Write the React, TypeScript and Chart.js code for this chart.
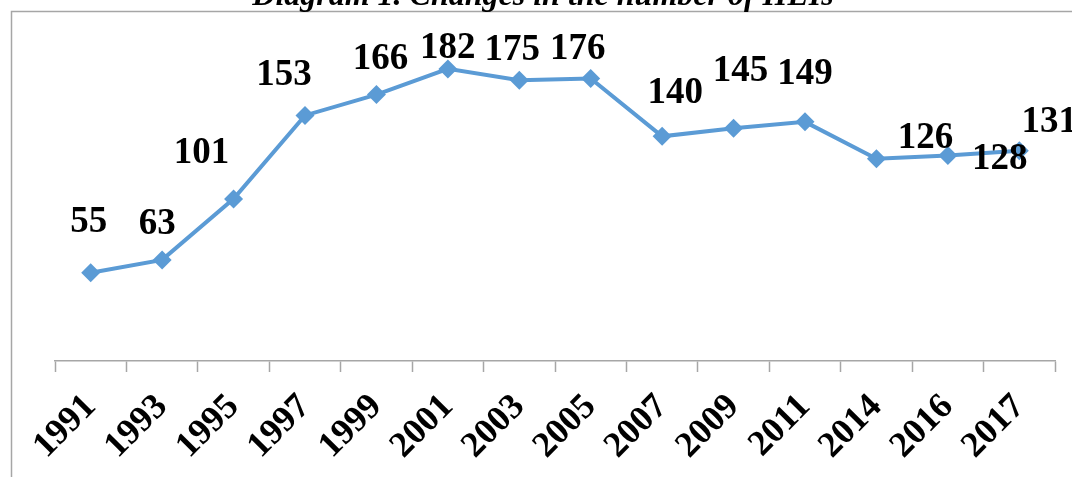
import React, { useEffect, useRef } from "react";
import { Chart, registerables } from "chart.js";

Chart.register(...registerables);

const years = ["1991", "1993", "1995", "1997", "1999", "2001", "2003", "2005", "2007", "2009", "2011", "2014", "2016", "2017"];
const heiCounts = [55, 63, 101, 153, 166, 182, 175, 176, 140, 145, 149, 126, 128, 131];
const titleText = "Diagram 1. Changes in the number of HEIs";
// label centre offsets relative to each point (manually placed labels in the original)
const labelOffsets: [number, number][] = [
  [-2, -53], [-5, -38], [-32, -48], [-21, -43], [4, -38], [0, -23], [-7, -33],
  [-13, -32], [13, -46], [7, -60], [0, -50], [49, -23], [52, 1], [30, -31],
];

const decorPlugin = {
  id: "decor",
  beforeDraw(chart: any) {
    const ctx = chart.ctx;
    ctx.save();
    ctx.strokeStyle = "#a6a6a6";
    ctx.lineWidth = 1.5;
    ctx.beginPath();
    ctx.moveTo(11.5, 480);
    ctx.lineTo(11.5, 11.5);
    ctx.lineTo(1080, 11.5);
    ctx.stroke();
    ctx.fillStyle = "#000";
    ctx.font = "italic bold 32px 'Liberation Serif', 'Times New Roman', serif";
    ctx.textAlign = "center";
    ctx.textBaseline = "alphabetic";
    ctx.fillText(titleText, 543, 5);
    ctx.restore();
  },
  afterDatasetsDraw(chart: any) {
    const ctx = chart.ctx;
    const meta = chart.getDatasetMeta(0);
    ctx.save();
    ctx.fillStyle = "#000";
    ctx.font = "bold 37px 'Liberation Serif', 'Times New Roman', serif";
    ctx.textAlign = "center";
    ctx.textBaseline = "alphabetic";
    meta.data.forEach((pt: any, i: number) => {
      const [dx, dy] = labelOffsets[i] || [0, -30];
      ctx.fillText(String(heiCounts[i]), pt.x + dx, pt.y + dy + 12.5);
    });
    ctx.restore();
  },
};

export default function App() {
  const ref = useRef<HTMLCanvasElement | null>(null);
  useEffect(() => {
    if (!ref.current) return;
    const chart = new Chart(ref.current, {
      type: "line",
      data: {
        labels: years,
        datasets: [
          {
            data: heiCounts,
            borderColor: "#5b9bd5",
            backgroundColor: "#5b9bd5",
            borderWidth: 4,
            pointStyle: "rectRot",
            pointRadius: 9.5,
            pointBorderWidth: 0,
            tension: 0,
          },
        ],
      },
      options: {
        responsive: false,
        animation: false,
        events: [],
        layout: { padding: { left: 55, right: 17, top: 40, bottom: 0 } },
        plugins: { legend: { display: false }, tooltip: { enabled: false }, title: { display: false } },
        scales: {
          x: {
            type: "category",
            offset: true,
            grid: {
              offset: true,
              drawOnChartArea: false,
              drawTicks: true,
              tickLength: 11,
              tickColor: "#a6a6a6",
              tickWidth: 1.5,
            },
            border: { display: true, color: "#a6a6a6", width: 1.5 },
            ticks: {
              autoSkip: false,
              maxRotation: 45,
              minRotation: 45,
              color: "#000",
              padding: 14,
              font: { family: "'Liberation Serif', 'Times New Roman', serif", size: 36, weight: "bold" },
            },
            afterFit(scale: any) {
              scale.height = 116;
              scale.paddingLeft = 0;
              scale.paddingRight = 0;
            },
          },
          y: {
            display: false,
            min: 0,
            max: 200,
          },
        },
      },
      plugins: [decorPlugin],
    });
    return () => chart.destroy();
  }, []);
  return (
    <div style={{ position: "fixed", left: 0, top: 0, width: 1072, height: 477, background: "#fff" }}>
      <canvas ref={ref} width={1072} height={477} style={{ display: "block" }} />
    </div>
  );
}
